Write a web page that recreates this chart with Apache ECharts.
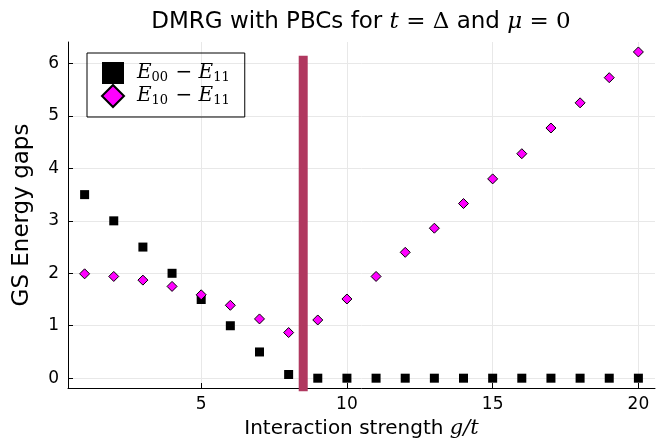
<!DOCTYPE html>
<html>
<head>
<meta charset="utf-8">
<script src="https://cdn.jsdelivr.net/npm/echarts@6/dist/echarts.min.js"></script>
<style>
  html, body { margin: 0; padding: 0; background: #fff; }
  #chart { width: 666px; height: 440px; }
</style>
</head>
<body>
<div id="chart"></div>
<script>
// Interaction strength g/t
const couplings = [1, 2, 3, 4, 5, 6, 7, 8, 9, 10, 11, 12, 13, 14, 15, 16, 17, 18, 19, 20];
// Gap E00 - E11
const gap00 = [3.5, 3.0, 2.5, 2.0, 1.5, 1.0, 0.5, 0.07, 0, 0, 0, 0, 0, 0, 0, 0, 0, 0, 0, 0];
// Gap E10 - E11
const gap10 = [1.99, 1.94, 1.87, 1.75, 1.59, 1.39, 1.13, 0.87, 1.11, 1.51, 1.94, 2.40, 2.86, 3.33, 3.80, 4.28, 4.77, 5.25, 5.73, 6.22];
// Transition marker position and extent
const transitionX = 8.5;
const transitionSpan = [-0.25, 6.15];
// Tick values
const xTicks = [5, 10, 15, 20];
const yTicks = [0, 1, 2, 3, 4, 5, 6];

const serif = "'DejaVu Serif', 'Liberation Serif', serif";
const sans = "'DejaVu Sans', sans-serif";

const chart = echarts.init(document.getElementById('chart'), null, { renderer: 'canvas' });

const legendRich = {
  i: { fontFamily: serif, fontStyle: 'italic', fontSize: 20, color: '#000', lineHeight: 22 },
  s: { fontFamily: serif, fontSize: 13, color: '#000', verticalAlign: 'bottom', lineHeight: 13, padding: [9, 1, 0, 0] },
  o: { fontFamily: serif, fontSize: 20, color: '#000', lineHeight: 22 }
};

chart.setOption({
  animation: false,
  backgroundColor: '#fff',
  title: {
    text: 'DMRG with PBCs for {m|t} {u|= Δ} and {m|μ} {u|= 0}',
    left: 356,
    textAlign: 'center',
    top: 6,
    textStyle: {
      fontFamily: sans,
      fontSize: 23,
      fontWeight: 'normal',
      color: '#000',
      rich: {
        m: { fontFamily: serif, fontStyle: 'italic', fontSize: 23, color: '#000' },
        u: { fontFamily: serif, fontSize: 23, color: '#000' }
      }
    }
  },
  legend: {
    orient: 'vertical',
    left: 87,
    top: 53,
    padding: [9, 14, 9, 14],
    itemGap: 0,
    itemWidth: 22,
    itemHeight: 22,
    borderColor: '#000',
    borderWidth: 1,
    borderRadius: 0,
    data: [
      { name: 'E00', icon: 'rect' },
      { name: 'E10', icon: 'diamond' }
    ],
    formatter: function (name) {
      const a = name === 'E00' ? '00' : '10';
      return '{i|E}{s|' + a + '}{o| − }{i|E}{s|11}';
    },
    textStyle: { rich: legendRich, padding: [0, 0, 0, 8] }
  },
  grid: { left: 68, right: 11, top: 42, bottom: 52, containLabel: false, outerBoundsMode: 'none' },
  xAxis: {
    type: 'value',
    min: 0.43,
    max: 20.57,
    name: 'Interaction strength {m|g/t}',
    nameLocation: 'middle',
    nameGap: 30,
    nameTextStyle: {
      fontFamily: sans, fontSize: 20, color: '#000',
      rich: { m: { fontFamily: serif, fontStyle: 'italic', fontSize: 21, color: '#000' } }
    },
    axisLine: { show: true, onZero: false, lineStyle: { color: '#000', width: 1 } },
    axisTick: { show: true, inside: true, length: 5, customValues: xTicks, lineStyle: { color: '#000' } },
    axisLabel: { customValues: xTicks, fontFamily: sans, fontSize: 17, color: '#000', margin: 8 },
    splitLine: { show: true, lineStyle: { color: '#e8e8e8', width: 1 } }
  },
  yAxis: {
    type: 'value',
    min: -0.187,
    max: 6.41,
    name: 'GS Energy gaps',
    nameLocation: 'middle',
    nameGap: 34,
    nameTextStyle: { fontFamily: sans, fontSize: 23, color: '#000' },
    axisLine: { show: true, onZero: false, lineStyle: { color: '#000', width: 1 } },
    axisTick: { show: true, inside: true, length: 5, customValues: yTicks, lineStyle: { color: '#000' } },
    axisLabel: { customValues: yTicks, fontFamily: sans, fontSize: 17, color: '#000', margin: 9 },
    splitLine: { show: true, lineStyle: { color: '#e8e8e8', width: 1 } }
  },
  series: [
    {
      name: 'E00',
      type: 'scatter',
      symbol: 'rect',
      symbolSize: 9,
      itemStyle: { color: '#000', opacity: 1 },
      data: couplings.map((g, i) => [g, gap00[i]]),
      z: 3
    },
    {
      name: 'E10',
      type: 'scatter',
      symbol: 'diamond',
      symbolSize: 10,
      itemStyle: { color: '#ff00ff', borderColor: '#000', borderWidth: 1, opacity: 1 },
      data: couplings.map((g, i) => [g, gap10[i]]),
      z: 4
    },
    {
      name: 'transition',
      type: 'line',
      symbol: 'none',
      clip: false,
      lineStyle: { color: '#b0385f', width: 9, cap: 'butt' },
      data: [[transitionX, transitionSpan[0]], [transitionX, transitionSpan[1]]],
      z: 2
    }
  ]
});
</script>
</body>
</html>
